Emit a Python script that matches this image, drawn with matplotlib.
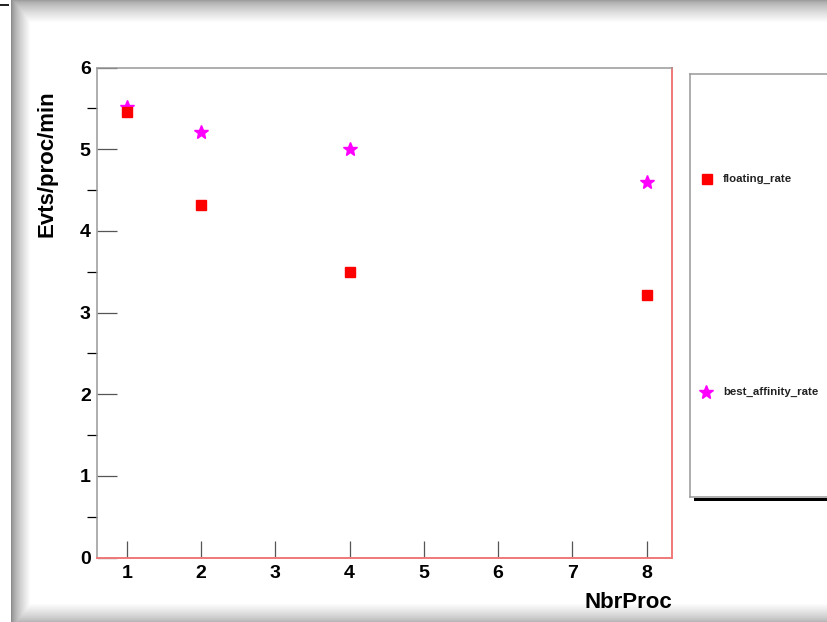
"""Evts/proc/min vs NbrProc, ROOT-canvas look."""
import numpy as np
import matplotlib
matplotlib.use('Agg')
import matplotlib.pyplot as plt
from matplotlib.patches import Rectangle

plt.rcParams['font.family'] = ['Liberation Sans', 'DejaVu Sans']
plt.rcParams['font.weight'] = 'bold'

# data
nbr_proc = [1, 2, 4, 8]
floating_rate = [5.46, 4.32, 3.49, 3.21]
best_affinity_rate = [5.52, 5.21, 5.00, 4.60]
x_ticks = [1, 2, 3, 4, 5, 6, 7, 8]
y_ticks = [0, 1, 2, 3, 4, 5, 6]

W, H = 827, 622
fig = plt.figure(figsize=(W / 100, H / 100), dpi=100)

# window frame gradients (background)
img = np.ones((H, W))
xs = np.arange(W)
ys = np.arange(H)
left = np.clip(0.55 + 0.45 * ((xs - 11) / 19.0) ** 0.7, 0.55, 1.0)
left[:11] = 1.0
top = np.clip(0.62 + 0.38 * (ys / 22.0) ** 0.7, 0.62, 1.0)
bot = np.clip(0.72 + 0.28 * ((H - 1 - ys) / 18.0) ** 0.8, 0.72, 1.0)
img = np.minimum(img, left[None, :])
band = np.minimum(top, bot)[:, None] * np.ones((1, W))
band[:, :11] = 1.0
img = np.minimum(img, band)
img[4:6, 0:9] = 0.15
bg = fig.add_axes([0, 0, 1, 1], zorder=-10)
bg.imshow(np.dstack([img] * 3), aspect='auto', extent=(0, W, H, 0))
bg.set_axis_off()

ax = fig.add_axes([97 / W, 1 - 557.5 / H, 575 / W, 490 / H])
ax.set_facecolor('white')
ax.plot(nbr_proc, best_affinity_rate, ls='none', marker='*', ms=10,
        color='#ff00ff', mec='#ff00ff', label='best_affinity_rate')
ax.plot(nbr_proc, floating_rate, ls='none', marker='s', ms=7.2,
        color='#ff0000', mec='#ff0000', label='floating_rate')

ax.set_xlim(0.60, 8.34)
ax.set_ylim(0, 6)
ax.set_xticks(x_ticks)
ax.set_yticks(y_ticks)
ax.set_yticks([v + 0.5 for v in y_ticks[:-1]], minor=True)
ax.tick_params(axis='both', direction='in', colors='#555555', labelcolor='black',
               labelsize=14, width=0.9)
ax.tick_params(axis='y', which='major', length=14.4, pad=4.5)
ax.tick_params(axis='y', which='minor', length=7.2, width=0.9)
ax.tick_params(axis='x', which='major', length=12.5, pad=5.5)
for lab in ax.get_xticklabels() + ax.get_yticklabels():
    lab.set_fontweight('bold')

for s in ['left', 'top']:
    ax.spines[s].set_color('#999999')
    ax.spines[s].set_linewidth(1.1)
for s in ['right', 'bottom']:
    ax.spines[s].set_color('#f07878')
    ax.spines[s].set_linewidth(1.4)

ax.set_ylabel('Evts/proc/min', fontsize=16, fontweight='bold')
ax.yaxis.set_label_coords(-0.087, 0.804)
ax.yaxis.label.set_verticalalignment('center')
ax.set_xlabel('NbrProc', fontsize=16, fontweight='bold')
ax.xaxis.set_label_coords(1.0, (557.5 - 607.5) / 490)
ax.xaxis.label.set_horizontalalignment('right')
ax.xaxis.label.set_verticalalignment('baseline')

# legend box (ROOT TLegend style, running off the canvas)
lax = fig.add_axes([690 / W, 1 - 497 / H, 0.2, 423 / H])
lax.set_xlim(0, 1)
lax.set_ylim(0, 1)
lax.set_xticks([])
lax.set_yticks([])
for s in ['left', 'top', 'bottom']:
    lax.spines[s].set_color('#999999')
    lax.spines[s].set_linewidth(1.1)
lax.spines['right'].set_visible(False)
fig.add_artist(Rectangle((694 / W, 1 - 501 / H), 0.2, 3.5 / H,
                         transform=fig.transFigure, color='black', lw=0))
lax.plot([0.0998], [0.752], ls='none', marker='s', ms=7.2, color='#ff0000')
lax.text(0.1995, 0.752, 'floating_rate', fontsize=8.2, fontweight='bold',
         va='center', ha='left', color='#222222')
lax.plot([0.094], [0.249], ls='none', marker='*', ms=10, color='#ff00ff')
lax.text(0.1995, 0.249, 'best_affinity_rate', fontsize=8.2, fontweight='bold',
         va='center', ha='left', color='#222222')

fig.savefig('out.png', dpi=100)
plt.close(fig)
